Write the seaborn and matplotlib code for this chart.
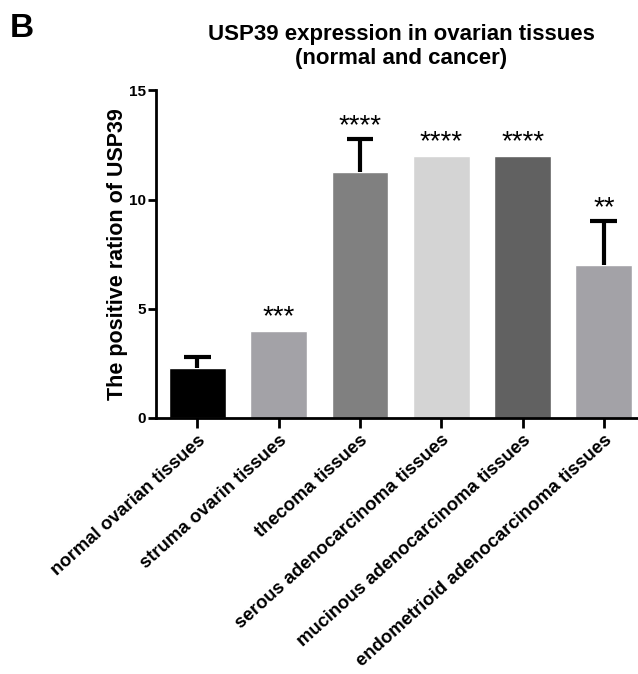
import matplotlib
matplotlib.use("Agg")
import matplotlib.pyplot as plt
import seaborn as sns
import pandas as pd
import numpy as np

categories = ["normal ovarian tissues", "struma ovarin tissues", "thecoma tissues",
              "serous adenocarcinoma tissues", "mucinous adenocarcinoma tissues",
              "endometrioid adenocarcinoma tissues"]
values = [2.28, 4.0, 11.25, 12.0, 12.0, 7.0]
errors = [0.5, 0.0, 1.5, 0.0, 0.0, 2.0]
stars = ["", "***", "****", "****", "****", "**"]
colors = ["#000000", "#a3a2a7", "#808080", "#d4d4d4", "#616161", "#a3a2a7"]

sns.set_style("ticks")
plt.rcParams['font.family'] = ['Liberation Sans', 'DejaVu Sans']
plt.rcParams['text.color'] = 'black'
plt.rcParams['axes.labelcolor'] = 'black'
plt.rcParams['xtick.color'] = 'black'
plt.rcParams['ytick.color'] = 'black'
plt.rcParams['axes.edgecolor'] = 'black'

df = pd.DataFrame({"cat": categories, "val": values})

fig = plt.figure(figsize=(6.38, 6.74), dpi=100)
ax = fig.add_axes([0.2445, 0.380, 0.7555, 0.486])

sns.barplot(data=df, x="cat", y="val", hue="cat", palette=colors, legend=False,
            width=0.70, ax=ax, errorbar=None, saturation=1)

x = np.arange(len(categories))
cap = 0.165
for i in range(len(categories)):
    top = values[i] + errors[i]
    if errors[i] > 0:
        ax.vlines(x[i], values[i], top, color="black", linewidth=3)
        ax.hlines(top, x[i] - cap, x[i] + cap, color="black", linewidth=3)
    if stars[i]:
        ax.text(x[i], top + 0.02, stars[i], ha="center", va="bottom",
                fontsize=20)

ax.set_xlim(-0.51, 5.42)
ax.set_ylim(0, 15)
ax.set_yticks([0, 5, 10, 15])
ax.set_xlabel("")
ax.set_ylabel("The positive ration of USP39", fontsize=15.5, fontweight="bold")
ax.yaxis.set_label_coords(-0.058, 0.5)
ax.set_xticks(x)
ax.set_xticklabels(categories, rotation=42, ha="right", rotation_mode="anchor",
                   fontsize=13.3, fontweight="bold")
for lab in ax.get_yticklabels():
    lab.set_fontweight("bold")
    lab.set_fontsize(11)
for s in ["top", "right"]:
    ax.spines[s].set_visible(False)
for s in ["left", "bottom"]:
    ax.spines[s].set_linewidth(2)
ax.tick_params(axis="y", width=2, length=6, pad=1)
ax.tick_params(axis="x", width=2, length=7, pad=3)

fig.text(0.629, 0.931, "USP39 expression in ovarian tissues\n(normal and cancer)",
         ha="center", va="center", fontsize=16, fontweight="bold", linespacing=1.15)
fig.text(0.015, 0.958, "B", fontsize=24, fontweight="bold", ha="left", va="center")

fig.savefig("out.png", dpi=100)
